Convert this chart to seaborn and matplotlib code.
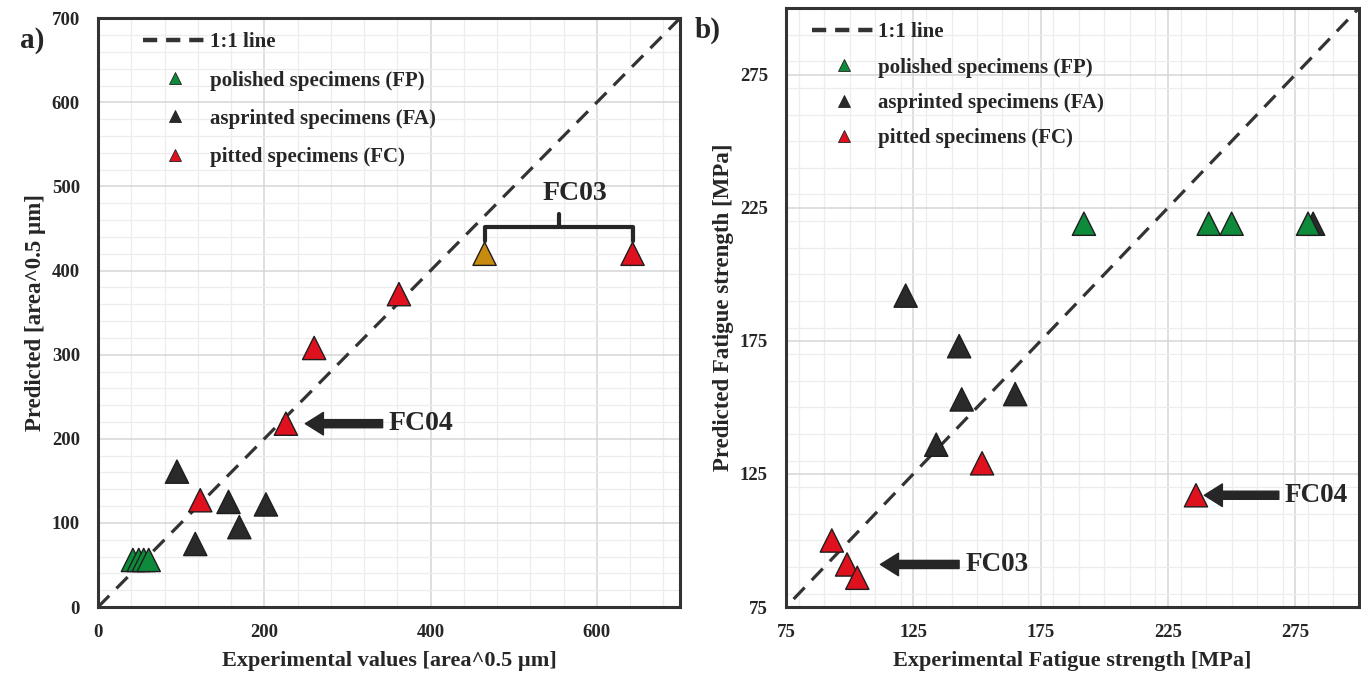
import numpy as np
import pandas as pd
import matplotlib
matplotlib.use("Agg")
import matplotlib.pyplot as plt
from matplotlib.lines import Line2D
from matplotlib.ticker import MultipleLocator
import seaborn as sns

# ---------------- data ----------------
group_labels = {
    "FP": "polished specimens (FP)",
    "FA": "asprinted specimens (FA)",
    "FC": "pitted specimens (FC)",
}
palette = {"FP": "#0e8a3b", "FA": "#2a2a2a", "FC": "#e0111f", "FC*": "#c98a10"}

# panel a: sqrt(area) values
a_exp = [42, 49, 55, 61, 95, 117, 157, 170, 202, 123, 226, 260, 362, 643, 465]
a_pred = [56, 56, 56, 56, 161, 75, 125, 95, 122, 127, 218, 308, 372, 420, 420]
a_group = ["FP"] * 4 + ["FA"] * 5 + ["FC"] * 5 + ["FC*"]
a_line = [0, 700]

# panel b: fatigue strength [MPa]
b_exp = [282, 192, 241, 250, 280, 122, 143, 144, 165, 134, 93, 99, 103, 152, 236]
b_pred = [219, 219, 219, 219, 219, 192, 173, 153, 155, 136, 100, 91, 86, 129, 117]
b_group = ["FA"] + ["FP"] * 4 + ["FA"] * 5 + ["FC"] * 5
b_line = [78, 300]

a_ticks_x = [0, 200, 400, 600]
a_ticks_y = [0, 100, 200, 300, 400, 500, 600, 700]
b_ticks = [75, 125, 175, 225, 275]

df_a = pd.DataFrame({"exp": a_exp, "pred": a_pred, "group": a_group})
df_b = pd.DataFrame({"exp": b_exp, "pred": b_pred, "group": b_group})

# ---------------- style ----------------
sns.set_theme(style="whitegrid")
plt.rcParams["font.family"] = ["Liberation Serif", "DejaVu Serif"]
plt.rcParams["font.weight"] = "bold"
TXT = "#262626"

fig = plt.figure(figsize=(13.61, 6.76), dpi=100)
ax_a = fig.add_axes([0.072, 0.102, 0.4276, 0.871])
ax_b = fig.add_axes([0.5775, 0.102, 0.421, 0.886])


def style_axes(ax, xlim, ylim, xmin, ymin, xticks, yticks):
    ax.set_xlim(*xlim)
    ax.set_ylim(*ylim)
    ax.set_xticks(xticks)
    ax.set_yticks(yticks)
    ax.xaxis.set_minor_locator(MultipleLocator(xmin))
    ax.yaxis.set_minor_locator(MultipleLocator(ymin))
    ax.grid(which="major", color="#d6d6d6", lw=1.1)
    ax.grid(which="minor", color="#ededed", lw=0.9)
    ax.set_axisbelow(True)
    for s in ax.spines.values():
        s.set_color("#333333")
        s.set_linewidth(2.2)
    ax.tick_params(axis="both", which="both", length=0, labelsize=13.5,
                   labelcolor=TXT)
    ax.tick_params(axis="y", pad=13)
    ax.tick_params(axis="x", pad=12.5)
    for lab in ax.get_xticklabels() + ax.get_yticklabels():
        lab.set_fontweight("bold")


def draw_panel(ax, df, line_vals):
    sns.lineplot(x=line_vals, y=line_vals, ax=ax, color="#333333", lw=2.3,
                 linestyle=(0, (5.0, 3.2)), zorder=2)
    sns.scatterplot(data=df, x="exp", y="pred", hue="group", palette=palette,
                    marker="^", s=280, edgecolor="#1e1e1e", linewidth=1.0,
                    legend=False, ax=ax, zorder=3)


def add_legend(ax, anchor, spacing):
    handles = [Line2D([0], [0], color="#333333", lw=3.2,
                      linestyle=(0, (3.2, 2.0)))]
    labels = ["1:1 line"]
    for g in ["FP", "FA", "FC"]:
        handles.append(Line2D([], [], marker="^", ls="none", markersize=9,
                              markerfacecolor=palette[g],
                              markeredgecolor="#222222", markeredgewidth=0.6))
        labels.append(group_labels[g])
    leg = ax.legend(handles, labels, loc="upper left", bbox_to_anchor=anchor,
                    frameon=False, handlelength=3.1, handletextpad=0.1,
                    labelspacing=spacing, borderaxespad=0,
                    prop={"family": "Liberation Serif", "weight": "bold",
                          "size": 15})
    for t in leg.get_texts():
        t.set_color(TXT)


arrow_kw = dict(arrowstyle="simple, head_length=1.0, head_width=1.25, tail_width=0.45",
                mutation_scale=13, color="#262626", shrinkA=2)

# ---------------- panel a ----------------
draw_panel(ax_a, df_a, a_line)
style_axes(ax_a, (0, 700), (0, 700), 40, 20, a_ticks_x, a_ticks_y)
ax_a.set_xlabel("Experimental values [area^0.5 µm]", fontsize=16,
                fontweight="bold", color=TXT, labelpad=7)
ax_a.set_ylabel("Predicted [area^0.5 µm]", fontsize=16.5, fontweight="bold",
                color=TXT, labelpad=4)
add_legend(ax_a, (0.063, 0.99), 0.87)

# FC04 arrow (panel a)
fc04a = df_a.iloc[10]
ax_a.annotate("FC04", xy=(fc04a.exp, fc04a.pred), xytext=(74, 0),
              textcoords="offset points", ha="left", va="center",
              fontsize=20, fontweight="bold", color=TXT,
              arrowprops=dict(**arrow_kw, shrinkB=14))

# FC03 bracket (panel a)
fc03_r = df_a.iloc[13]
fc03_o = df_a.iloc[14]
x1, x2 = fc03_o.exp, fc03_r.exp
yb = fc03_r.pred + 32
xm = (x1 + x2) / 2
ax_a.plot([x1, x1, x2, x2], [yb - 17, yb, yb, yb - 17], color="#262626",
          lw=3, solid_capstyle="round", solid_joinstyle="round", zorder=4)
ax_a.plot([xm, xm], [yb, yb + 15], color="#262626", lw=3,
          solid_capstyle="round", zorder=4)
ax_a.text(xm + 20, yb + 40, "FC03", ha="center", va="center", fontsize=20,
          fontweight="bold", color=TXT)

# ---------------- panel b ----------------
draw_panel(ax_b, df_b, b_line)
style_axes(ax_b, (75, 300), (75, 300), 10, 10, b_ticks, b_ticks)
ax_b.set_xlabel("Experimental Fatigue strength [MPa]", fontsize=16,
                fontweight="bold", color=TXT, labelpad=7)
ax_b.set_ylabel("Predicted Fatigue strength [MPa]", fontsize=16.5,
                fontweight="bold", color=TXT, labelpad=4)
add_legend(ax_b, (0.03, 0.99), 0.73)

fc04b = df_b.iloc[14]
ax_b.annotate("FC04", xy=(fc04b.exp, fc04b.pred), xytext=(64, 0),
              textcoords="offset points", ha="left", va="center",
              fontsize=19.5, fontweight="bold", color=TXT,
              arrowprops=dict(**arrow_kw, shrinkB=6))

fc03b = df_b.iloc[11]
ax_b.annotate("FC03", xy=(fc03b.exp, fc03b.pred), xytext=(85, 0),
              textcoords="offset points", ha="left", va="center",
              fontsize=19.5, fontweight="bold", color=TXT,
              arrowprops=dict(**arrow_kw, shrinkB=24))

# panel letters
fig.text(0.015, 0.94, "a)", fontsize=21, fontweight="bold", color=TXT,
         ha="left", va="center")
fig.text(0.510, 0.955, "b)", fontsize=21, fontweight="bold", color=TXT,
         ha="left", va="center")

fig.savefig("out.png", dpi=100)
